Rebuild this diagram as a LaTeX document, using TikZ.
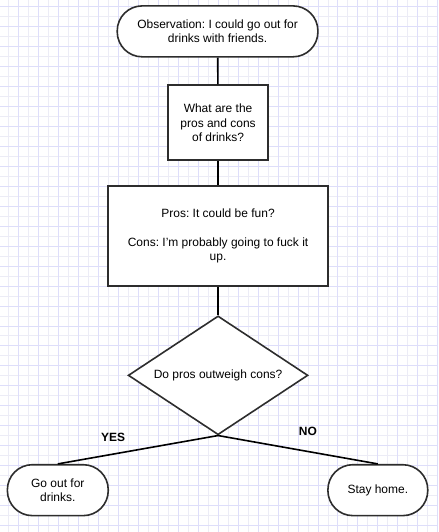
\documentclass[tikz,border=0pt]{standalone}
\usepackage{fontspec}
\setmainfont{Liberation Sans}
\usetikzlibrary{shapes.geometric}
\definecolor{gridmajor}{RGB}{222,222,250}
\definecolor{gridminor}{RGB}{236,236,246}
\definecolor{boxline}{RGB}{45,45,45}
\frenchspacing

\begin{document}
\begin{tikzpicture}[x=1pt,y=-1pt,font=\fontsize{12}{14.4}\selectfont]
      \tikzstyle{block}=[draw=boxline,line width=1.6pt,fill=white,align=center,inner sep=2pt]
      \tikzstyle{terminal}=[block,rounded corners=25pt,minimum height=51pt]
      \tikzstyle{process}=[block,rectangle]
      \tikzstyle{decision}=[block,diamond,aspect=1.5,minimum width=180pt,minimum height=119pt,inner sep=0pt]
      \tikzstyle{link}=[draw=black,line width=1.6pt]
      \tikzstyle{annot}=[font=\fontsize{12}{14.4}\selectfont\bfseries]

      % Background grid
      \fill[white] (0,0) rectangle (438,532);
      \foreach \x in {8,28,...,438}
          \draw[gridminor,line width=0.8pt] (\x,0) -- (\x,532);
      \foreach \y in {16,36,...,532}
          \draw[gridminor,line width=0.8pt] (0,\y) -- (438,\y);
      \foreach \x in {18,38,...,438}
          \draw[gridmajor,line width=0.8pt] (\x,0) -- (\x,532);
      \foreach \y in {6,26,...,532}
          \draw[gridmajor,line width=0.8pt] (0,\y) -- (438,\y);
      \useasboundingbox (0,0) rectangle (438,532);

      % Draw the flow nodes
      \node[terminal,minimum width=201pt] (obs) at (217.5,31)
          {Observation: I could go out for\\drinks with friends.};
      \node[process,minimum width=100pt,minimum height=75pt] (ask) at (218,122.5)
          {What are the\\pros and cons\\of drinks?};
      \node[process,minimum width=220pt,minimum height=100pt] (list) at (218,236)
          {Pros: It could be fun?\\[14.4pt]Cons: I'm probably going to fuck it\\up.};
      \node[decision] (dec) at (218,375.5) {Do pros outweigh cons?};

      % Draw the outcome nodes
      \node[terminal,minimum width=101pt] (go) at (57.5,490.5) {Go out for\\drinks.};
      \node[terminal,minimum width=100pt] (stay) at (378,490.5) {Stay home.};

      % Connect the steps
      \path[link] (obs) -- (ask);
      \path[link] (ask) -- (list);
      \path[link] (list) -- (dec);
      \path[link] (dec.south) -- (go.north);
      \path[link] (dec.south) -- (stay.north);

      % Annotate the branches
      \node[annot] (yes) at (113,438) {YES};
      \node[annot] (no) at (308,432) {NO};
  \end{tikzpicture}
\end{document}
